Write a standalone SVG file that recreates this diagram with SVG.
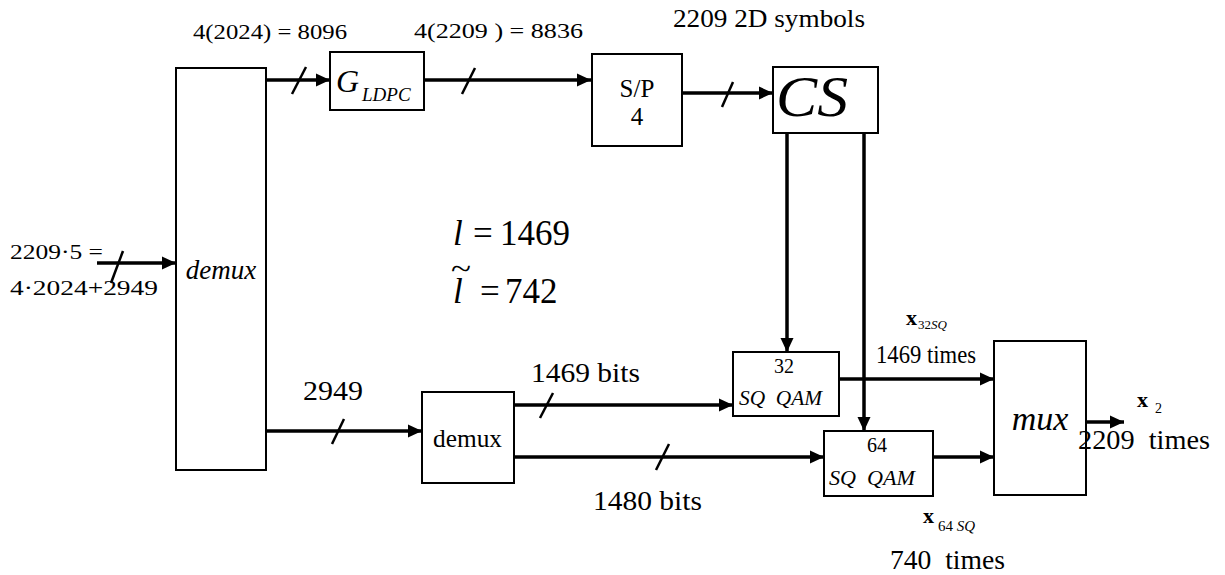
<svg xmlns="http://www.w3.org/2000/svg" width="1225" height="575" viewBox="0 0 1225 575">
<style>
  .t { font-family: "Liberation Serif", "Times New Roman", Times, serif; fill: #000; }
  .box { fill: #fff; stroke: #000; stroke-width: 2; }
  .wire { fill: none; stroke: #000; stroke-width: 3.5; }
  .slash { fill: none; stroke: #000; stroke-width: 2.5; }
  .it { font-style: italic; }
  .bd { font-weight: bold; }
</style>
<defs>
  <marker id="ah" markerUnits="userSpaceOnUse" markerWidth="16" markerHeight="16" viewBox="0 0 16 16" refX="15" refY="8" orient="auto">
    <path d="M1,1.5 L15,8 L1,14.5 Z" fill="#000"/>
  </marker>
</defs>

<g id="connectors">
  <line class="wire" x1="97" y1="263" x2="176" y2="263" marker-end="url(#ah)"/>
  <line class="slash" x1="111" y1="283" x2="123" y2="251"/>
  <line class="wire" x1="266" y1="80" x2="330" y2="80" marker-end="url(#ah)"/>
  <line class="slash" x1="292" y1="94" x2="306" y2="67"/>
  <line class="wire" x1="424" y1="80" x2="591" y2="80" marker-end="url(#ah)"/>
  <line class="slash" x1="462" y1="94" x2="475" y2="68"/>
  <line class="wire" x1="682" y1="93" x2="773" y2="93" marker-end="url(#ah)"/>
  <line class="slash" x1="722" y1="107" x2="733" y2="82"/>
  <line class="wire" x1="787" y1="133" x2="787" y2="352" marker-end="url(#ah)"/>
  <line class="wire" x1="864" y1="133" x2="864" y2="431" marker-end="url(#ah)"/>
  <line class="wire" x1="266" y1="431" x2="422" y2="431" marker-end="url(#ah)"/>
  <line class="slash" x1="332" y1="444" x2="344" y2="419"/>
  <line class="wire" x1="514" y1="405" x2="733" y2="405" marker-end="url(#ah)"/>
  <line class="slash" x1="540" y1="418" x2="553" y2="393"/>
  <line class="wire" x1="514" y1="457" x2="824" y2="457" marker-end="url(#ah)"/>
  <line class="slash" x1="656" y1="470" x2="669" y2="444"/>
  <line class="wire" x1="839" y1="379" x2="994" y2="379" marker-end="url(#ah)"/>
  <line class="wire" x1="933" y1="457" x2="994" y2="457" marker-end="url(#ah)"/>
  <line class="wire" x1="1086" y1="422" x2="1124" y2="422" marker-end="url(#ah)"/>
</g>

<g id="demux-main">
  <rect class="box" x="176" y="68" width="90" height="402"/>
  <text class="t it" x="221" y="279" font-size="27" text-anchor="middle">demux</text>
</g>
<g id="gldpc">
  <rect class="box" x="330" y="52" width="94" height="58"/>
  <text class="t it" x="336" y="92" font-size="32">G<tspan x="362" y="101" font-size="19">LDPC</tspan></text>
</g>
<g id="sp">
  <rect class="box" x="592" y="54" width="90" height="92"/>
  <text class="t" x="637" y="97" font-size="25" text-anchor="middle">S/P</text>
  <text class="t" x="637" y="125" font-size="25" text-anchor="middle">4</text>
</g>
<g id="cs">
  <rect class="box" x="773" y="67" width="105" height="66"/>
  <text class="t it" x="776" y="116" font-size="58" textLength="72" lengthAdjust="spacingAndGlyphs">CS</text>
</g>
<g id="demux-small">
  <rect class="box" x="422" y="392" width="92" height="91"/>
  <text class="t" x="433" y="447" font-size="25" textLength="69" lengthAdjust="spacingAndGlyphs">demux</text>
</g>
<g id="qam32">
  <rect class="box" x="733" y="352" width="106" height="64"/>
  <text class="t" x="784" y="373" font-size="20" text-anchor="middle">32</text>
  <text class="t it" x="739" y="405" font-size="20" textLength="83" lengthAdjust="spacingAndGlyphs" xml:space="preserve">SQ  QAM</text>
</g>
<g id="qam64">
  <rect class="box" x="824" y="431" width="109" height="65"/>
  <text class="t" x="877" y="452" font-size="20" text-anchor="middle">64</text>
  <text class="t it" x="829" y="485" font-size="20" textLength="86" lengthAdjust="spacingAndGlyphs" xml:space="preserve">SQ  QAM</text>
</g>
<g id="mux">
  <rect class="box" x="994" y="341" width="92" height="154"/>
  <text class="t it" x="1040" y="430" font-size="34" text-anchor="middle">mux</text>
</g>

<g id="labels">
  <text class="t" x="193" y="39" font-size="21" textLength="154" lengthAdjust="spacingAndGlyphs">4(2024) = 8096</text>
  <text class="t" x="414" y="38" font-size="21" textLength="169" lengthAdjust="spacingAndGlyphs">4(2209 ) = 8836</text>
  <text class="t" x="673" y="27" font-size="25" textLength="192" lengthAdjust="spacingAndGlyphs">2209 2D symbols</text>
  <text class="t" x="10" y="259" font-size="20" textLength="93" lengthAdjust="spacingAndGlyphs">2209·5 =</text>
  <text class="t" x="10" y="295" font-size="20" textLength="148" lengthAdjust="spacingAndGlyphs">4·2024+2949</text>
  <text class="t" x="453" y="245" font-size="35"><tspan class="it">l</tspan><tspan x="473">=</tspan><tspan x="500">1469</tspan></text>
  <text class="t" x="453" y="303" font-size="35"><tspan x="451" y="279" font-size="30" textLength="20" lengthAdjust="spacingAndGlyphs">~</tspan><tspan class="it" x="453" y="303">l</tspan><tspan x="480">=</tspan><tspan x="505">742</tspan></text>
  <text class="t" x="303" y="400" font-size="27" textLength="60" lengthAdjust="spacingAndGlyphs">2949</text>
  <text class="t" x="531" y="382" font-size="27" textLength="109" lengthAdjust="spacingAndGlyphs">1469 bits</text>
  <text class="t" x="593" y="510" font-size="27" textLength="109" lengthAdjust="spacingAndGlyphs">1480 bits</text>
  <text class="t" x="906" y="325" font-size="22"><tspan class="bd">x</tspan><tspan x="918" y="329" font-size="13">32</tspan><tspan class="it" font-size="13">SQ</tspan></text>
  <text class="t" x="876" y="363" font-size="25" textLength="100" lengthAdjust="spacingAndGlyphs">1469 times</text>
  <text class="t" x="923" y="523" font-size="22"><tspan class="bd">x</tspan><tspan x="938" y="531" font-size="15">64 </tspan><tspan class="it" font-size="15">SQ</tspan></text>
  <text class="t" x="890" y="569" font-size="27" textLength="115" lengthAdjust="spacingAndGlyphs" xml:space="preserve">740  times</text>
  <text class="t" x="1137" y="407" font-size="22"><tspan class="bd">x</tspan><tspan x="1155" y="413" font-size="14">2</tspan></text>
  <text class="t" x="1078" y="449" font-size="27" textLength="132" lengthAdjust="spacingAndGlyphs" xml:space="preserve">2209  times</text>
</g>
</svg>
